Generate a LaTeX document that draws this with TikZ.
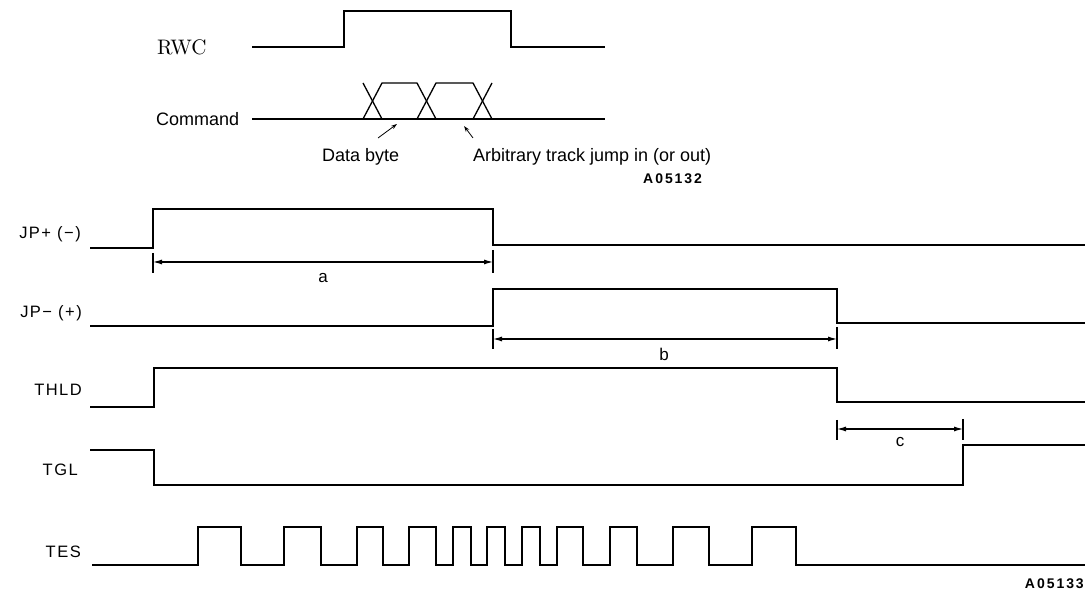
\documentclass[tikz,border=0pt]{standalone}
\usepackage{fontspec}
\usetikzlibrary{arrows.meta}
\newfontfamily\hv{Liberation Sans}
\newfontfamily\plotfont[LetterSpace=9]{Liberation Sans}
\newfontfamily\codefont[LetterSpace=14]{Liberation Sans}
\newfontfamily\rwcfont{lmroman10-regular}[Extension=.otf]
\begin{document}
\begin{tikzpicture}[x=1pt,y=-1pt,
  wave/.style={line width=1.3pt, line join=miter},
  dim/.style={line width=1.1pt, {Latex[length=9pt,width=5pt]}-{Latex[length=9pt,width=5pt]}},
  tick/.style={line width=1.1pt},
  pointer/.style={line width=0.8pt, -{Stealth[length=6pt,width=4pt]}},
  siglabel/.style={inner sep=0pt, anchor=base east, font=\fontsize{16.5}{18}\selectfont\plotfont},
  dimlabel/.style={inner sep=0pt, font=\fontsize{17}{18}\selectfont\plotfont},
  hvtext/.style={inner sep=0pt, anchor=base west, font=\fontsize{18}{20}\selectfont\hv},
  figid/.style={inner sep=0pt, anchor=base west, font=\fontsize{14}{15}\selectfont\codefont\bfseries}]
\useasboundingbox (0,0) rectangle (1085,593);

% ---------- top part ----------
\node[inner sep=0pt, anchor=west, font=\fontsize{21}{23}\selectfont\rwcfont] (rwc) at (157,47) {RWC};
\draw[wave] (252,47) -- (344,47) -- (344,11) -- (511,11) -- (511,47) -- (605,47);

\node[inner sep=0pt, anchor=west, font=\fontsize{18}{20}\selectfont\hv] (cmd) at (156,119) {Command};
\draw[wave] (252,119) -- (605,119);
\draw[wave] (363,119) -- (382,83) -- (417,83) -- (436,119);
\draw[wave] (363,83) -- (382,119);
\draw[wave] (417,119) -- (436,83) -- (473,83) -- (492,119);
\draw[wave] (473,119) -- (492,83);

\node[hvtext] (databyte) at (322,161.5) {Data byte};
\node[hvtext] (arb) at (473,161.5) {Arbitrary track jump in (or out)};
\node[figid] (fig1) at (643,183.5) {A05132};
\coordinate (p1s) at (378,138);
\coordinate (p1e) at (397,124);
\coordinate (p2s) at (473,138);
\coordinate (p2e) at (464,126);
\draw[pointer] (p1s) -- (p1e);
\draw[pointer] (p2s) -- (p2e);

% ---------- lower part ----------
\node[siglabel] (jpp) at (81,239) {JP+ (−)};
\node[siglabel] (jpm) at (82,318) {JP− (+)};
\node[siglabel] (thld) at (82,396) {THLD};
\node[siglabel] (tgl) at (78,476) {TGL};
\node[siglabel] (tes) at (81,558) {TES};

% JP+ (-)
\draw[wave] (90,248) -- (153,248) -- (153,209) -- (493,209) -- (493,245) -- (1085,245);
% JP- (+)
\draw[wave] (90,326) -- (493,326) -- (493,289) -- (837,289) -- (837,323) -- (1085,323);
% THLD
\draw[wave] (90,407) -- (154,407) -- (154,368) -- (837,368) -- (837,402) -- (1085,402);
% TGL
\draw[wave] (90,450) -- (154,450) -- (154,485) -- (963,485) -- (963,445) -- (1085,445);
% TES
\draw[wave] (92,565)
  \foreach \r/\f in {198/241,284/321,357/383,409/436,453/471,487/505,522/540,557/583,610/637,673/709,752/796}
  { -- (\r,565) -- (\r,527) -- (\f,527) -- (\f,565) } -- (1085,565);

% dimension a
\coordinate (a1t) at (153,253); \coordinate (a1b) at (153,273);
\coordinate (a2t) at (493,250); \coordinate (a2b) at (493,273);
\coordinate (a1) at (153,262); \coordinate (a2) at (493,262);
\draw[tick] (a1t) -- (a1b);
\draw[tick] (a2t) -- (a2b);
\draw[dim] (a1) -- (a2);
\node[dimlabel] (la) at (323,278) {a};

% dimension b
\coordinate (b1t) at (493,329); \coordinate (b1b) at (493,349);
\coordinate (b2t) at (837,327); \coordinate (b2b) at (837,349);
\coordinate (b1) at (493,339); \coordinate (b2) at (837,339);
\draw[tick] (b1t) -- (b1b);
\draw[tick] (b2t) -- (b2b);
\draw[dim] (b1) -- (b2);
\node[dimlabel] (lb) at (664,354) {b};

% dimension c
\coordinate (c1t) at (837,420); \coordinate (c1b) at (837,440);
\coordinate (c2t) at (963,419); \coordinate (c2b) at (963,440);
\coordinate (c1) at (837,429); \coordinate (c2) at (963,429);
\draw[tick] (c1t) -- (c1b);
\draw[tick] (c2t) -- (c2b);
\draw[dim] (c1) -- (c2);
\node[dimlabel] (lc) at (900,442) {c};

\node[figid, anchor=base east] (fig2) at (1084,588) {A05133};
\end{tikzpicture}
\end{document}
